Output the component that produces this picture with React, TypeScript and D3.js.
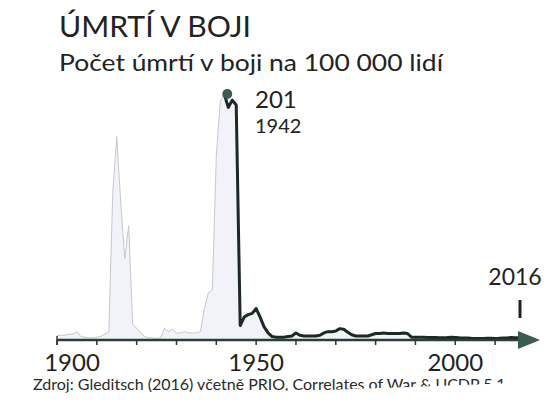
import React from "react";
import * as d3 from "d3";

// battle deaths per 100,000 people
const lightStart = 1900;
const lightValues = [
  3, 3, 3, 4, 4, 6, 2, 1.5, 1, 1, 1.5, 2, 4, 6, 120, 166, 112, 66, 93, 12,
  9, 5, 2, 1, 1, 0.5, 1, 9, 6, 8, 5, 5, 6, 5, 5, 5, 6, 25, 38, 40, 150, 195, 201,
];
const darkStart = 1942;
const darkValues = [
  201, 190, 196, 192, 11, 18, 20, 21, 25, 18, 10, 5, 2, 1.5, 1.5, 1.5, 2, 2.5,
  5, 3, 2.5, 2.5, 2.5, 2.5, 3, 5, 6, 6, 6.5, 8.5, 8, 5.5, 3.5, 2.5, 2.5, 2.5,
  2.5, 3.5, 4.5, 4.5, 5, 4.5, 4.5, 4.5, 4.5, 5, 4.5, 1.5, 1.5, 1.5, 1.5, 1.2,
  1.2, 1.2, 1, 1, 1.2, 1.5, 1.3, 1, 0.8, 0.8, 0.6, 0.5, 0.5, 0.5, 0.6, 0.6,
  0.5, 0.6, 0.8, 0.9, 1.2, 1.1, 1,
];
const tickYears = [1900, 1910, 1920, 1930, 1940, 1950, 1960, 1970, 1980, 1990, 2000, 2010];
const labelYears = [1900, 1950, 2000];
const peak = { year: 1942, value: 201 };
const last = { year: 2016, value: 1 };

const title = "ÚMRTÍ V BOJI";
const subtitle = "Počet úmrtí v boji na 100 000 lidí";
const source = "Zdroj: Gleditsch (2016) včetně PRIO, Correlates of War & UCDP 5.1";

const font = "Lato, 'Open Sans', sans-serif";

const App = () => {
  const x = d3.scaleLinear().domain([1900, 2016]).range([57, 519]);
  const y = d3.scaleLinear().domain([0, 201]).range([339, 94]);

  const light = lightValues.map((v, i) => [lightStart + i, v]);
  const dark = darkValues.map((v, i) => [darkStart + i, v]);
  const all = light.concat(dark.slice(1));

  const line = d3.line().x((d) => x(d[0])).y((d) => y(d[1]));
  const area = d3
    .area()
    .x((d) => x(d[0]))
    .y0(y(0))
    .y1((d) => y(d[1]));

  const axisY = y(0) + 1;

  return (
    <svg width={546} height={411} style={{ display: "block", position: "absolute", left: 0, top: 0 }}>
      <rect width={546} height={411} fill="#fff" />
      <text x={59} y={37} fontFamily={font} fontSize={28} fill="#222" textLength={192} lengthAdjust="spacingAndGlyphs">
        {title}
      </text>
      <text x={59} y={71} fontFamily={font} fontSize={23.5} fill="#222" textLength={384} lengthAdjust="spacingAndGlyphs">
        {subtitle}
      </text>

      <path d={area(all)} fill="#f1f3f8" />
      <path d={line(light)} fill="none" stroke="#c6c8cf" strokeWidth={1} />
      <path d={line(dark)} fill="none" stroke="#1d2925" strokeWidth={3} strokeLinejoin="round" />

      {/* axis */}
      <line x1={x(1900)} x2={x(2016)} y1={axisY} y2={axisY} stroke="#2c3d37" strokeWidth={2.5} />
      <line x1={x(1900)} x2={x(1900)} y1={axisY - 4} y2={axisY + 5} stroke="#333" strokeWidth={1.5} />
      {tickYears.map((t) => (
        <line key={t} x1={x(t)} x2={x(t)} y1={axisY} y2={axisY + 5} stroke="#333" strokeWidth={1.5} />
      ))}
      <path
        d={`M${x(2016) - 1},${axisY - 9} L${x(2016) + 21},${axisY} L${x(2016) - 1},${axisY + 9} Z`}
        fill="#3c5a4f"
      />
      {labelYears.map((t, i) => (
        <text
          key={t}
          x={i === 0 ? x(t) + 15 : x(t)}
          y={371}
          textAnchor="middle"
          fontFamily={font}
          fontSize={24}
          fill="#222"
        >
          {t}
        </text>
      ))}

      {/* peak annotation */}
      <circle cx={x(peak.year) + 3} cy={y(peak.value)} r={5} fill="#3e5a52" />
      <text x={255} y={108} fontFamily={font} fontSize={24} fill="#222">
        {peak.value}
      </text>
      <text x={255} y={133} fontFamily={font} fontSize={20} fill="#222">
        {peak.year}
      </text>

      {/* last value annotation */}
      <text x={x(last.year) - 4} y={285} textAnchor="middle" fontFamily={font} fontSize={23} fill="#222">
        {last.year}
      </text>
      <line x1={x(last.year) + 1} x2={x(last.year) + 1} y1={300} y2={318} stroke="#222" strokeWidth={3} />

      <defs>
        <clipPath id="srcClip">
          <path d="M0,0 L546,0 L546,382 L300,391 L0,393 Z" />
        </clipPath>
      </defs>
      <text x={33} y={390} fontFamily={font} fontSize={16} fill="#2a2a2a" clipPath="url(#srcClip)">
        {source}
      </text>
    </svg>
  );
};

export default App;
